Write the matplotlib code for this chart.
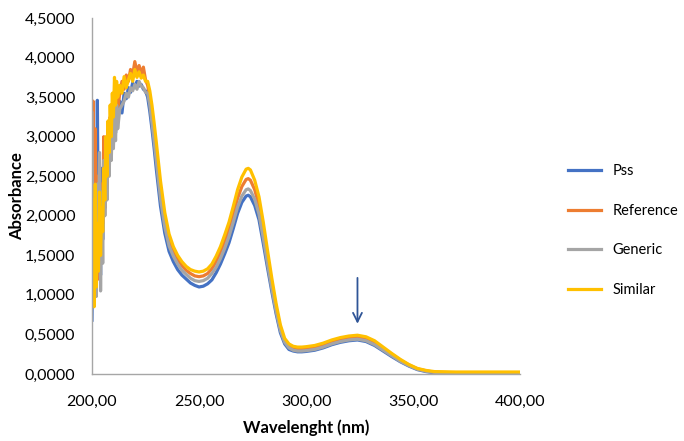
import numpy as np
import matplotlib.pyplot as plt
from matplotlib.ticker import FuncFormatter

plt.rcParams['font.family'] = ['Lato', 'DejaVu Sans']

# wavelength grid (nm)
wavelength = [200.0, 200.5, 201.0, 201.5, 202.0, 202.5, 203.0, 203.5, 204.0, 204.5,
              205.0, 205.5, 206.0, 206.5, 207.0, 207.5, 208.0, 208.5, 209.0, 209.5,
              210.0, 210.5, 211.0, 211.5, 212.0,
              213, 214, 215, 216, 217, 218, 219, 220, 221, 222, 223, 224, 225, 226,
              227, 228, 229, 230,
              232, 234, 236, 238, 240, 242, 244, 246, 248, 250, 252, 254, 256, 258,
              260, 262, 264, 266, 268, 270, 272, 273, 274, 276, 278, 280, 282, 284,
              286, 288, 290, 292, 294, 296, 298, 300,
              304, 308, 312, 316, 320, 324, 328, 332, 336, 340, 344, 348, 352, 356,
              360, 370, 380, 390, 400]

pss = [0.68, 1.90, 1.10, 2.70, 1.30, 3.46, 1.60, 2.40, 1.25, 2.60,
       1.70, 2.55, 2.10, 2.90, 2.40, 3.05, 2.60, 3.15, 2.75, 3.30,
       2.95, 3.45, 3.05, 3.50, 3.20,
       3.45, 3.30, 3.55, 3.48, 3.62, 3.56, 3.68, 3.62, 3.70, 3.64, 3.66, 3.60, 3.58, 3.50,
       3.32, 3.10, 2.86, 2.60,
       2.12, 1.78, 1.55, 1.42, 1.32, 1.25, 1.20, 1.15, 1.12, 1.10, 1.11, 1.14, 1.19, 1.28,
       1.39, 1.52, 1.66, 1.84, 2.03, 2.17, 2.25, 2.26, 2.24, 2.13, 1.95, 1.65, 1.34, 1.04,
       0.76, 0.52, 0.38, 0.31, 0.29, 0.28, 0.28, 0.285,
       0.30, 0.33, 0.37, 0.40, 0.42, 0.43, 0.41, 0.36, 0.29, 0.22, 0.155, 0.10, 0.055, 0.03,
       0.015, 0.01, 0.01, 0.01, 0.01]

reference = [1.50, 3.45, 2.00, 3.10, 1.60, 2.50, 1.20, 2.10, 1.70, 2.40,
             1.90, 3.00, 2.10, 2.70, 2.30, 3.10, 2.65, 3.25, 2.90, 3.40,
             3.05, 3.55, 3.20, 3.60, 3.35,
             3.55, 3.70, 3.60, 3.78, 3.70, 3.85, 3.78, 3.95, 3.82, 3.90, 3.80, 3.88, 3.72, 3.65,
             3.50, 3.30, 3.06, 2.82,
             2.34, 1.96, 1.70, 1.55, 1.45, 1.37, 1.31, 1.27, 1.24, 1.23, 1.24, 1.27, 1.33, 1.42,
             1.54, 1.68, 1.83, 2.02, 2.22, 2.37, 2.46, 2.47, 2.45, 2.33, 2.13, 1.82, 1.47, 1.14,
             0.84, 0.58, 0.42, 0.35, 0.32, 0.31, 0.31, 0.315,
             0.33, 0.36, 0.40, 0.44, 0.46, 0.47, 0.45, 0.40, 0.32, 0.25, 0.175, 0.115, 0.065, 0.04,
             0.022, 0.015, 0.015, 0.015, 0.015]

generic = [3.30, 1.20, 2.20, 1.50, 0.98, 2.40, 1.70, 2.80, 1.05, 2.30,
           1.40, 2.70, 2.00, 2.60, 2.20, 2.95, 2.50, 3.00, 2.70, 3.20,
           2.85, 3.30, 2.95, 3.40, 3.10,
           3.35, 3.40, 3.45, 3.55, 3.50, 3.62, 3.58, 3.66, 3.60, 3.70, 3.64, 3.62, 3.56, 3.55,
           3.40, 3.18, 2.95, 2.70,
           2.22, 1.86, 1.62, 1.49, 1.39, 1.31, 1.26, 1.21, 1.18, 1.17, 1.18, 1.21, 1.27, 1.35,
           1.46, 1.59, 1.74, 1.92, 2.11, 2.25, 2.33, 2.34, 2.32, 2.21, 2.02, 1.72, 1.39, 1.08,
           0.79, 0.55, 0.40, 0.33, 0.30, 0.29, 0.29, 0.295,
           0.31, 0.34, 0.38, 0.41, 0.43, 0.44, 0.42, 0.37, 0.30, 0.23, 0.16, 0.105, 0.06, 0.035,
           0.02, 0.012, 0.012, 0.012, 0.012]

similar = [0.95, 2.20, 0.85, 2.40, 1.10, 1.90, 1.30, 2.30, 1.50, 2.10,
           1.80, 2.60, 2.20, 3.00, 2.50, 3.20, 2.80, 3.40, 3.00, 3.55,
           3.25, 3.75, 3.40, 3.70, 3.50,
           3.65, 3.55, 3.76, 3.62, 3.72, 3.80, 3.70, 3.85, 3.75, 3.82, 3.74, 3.78, 3.70, 3.70,
           3.58, 3.40, 3.18, 2.94,
           2.44, 2.04, 1.77, 1.61, 1.50, 1.42, 1.36, 1.32, 1.30, 1.29, 1.30, 1.33, 1.39, 1.49,
           1.61, 1.76, 1.92, 2.12, 2.33, 2.49, 2.59, 2.60, 2.58, 2.45, 2.24, 1.92, 1.56, 1.21,
           0.89, 0.62, 0.45, 0.38, 0.35, 0.34, 0.34, 0.345,
           0.36, 0.39, 0.43, 0.46, 0.48, 0.49, 0.47, 0.42, 0.34, 0.26, 0.185, 0.12, 0.07, 0.045,
           0.03, 0.025, 0.025, 0.025, 0.025]

names = ['Pss', 'Reference', 'Generic', 'Similar']
colors = ['#4472C4', '#ED7D31', '#A5A5A5', '#FFC000']

fig = plt.figure(figsize=(6.84, 4.41), dpi=100)
ax = fig.add_axes([0.1345, 0.152, 0.626, 0.807])

for y, name, c in zip([pss, reference, generic, similar], names, colors):
    ax.plot(wavelength, y, color=c, lw=2.3, label=name, solid_joinstyle='round')

# arrow over the 3rd band
ax.annotate('', xy=(324, 0.60), xytext=(324, 1.25),
            arrowprops=dict(arrowstyle='->', color='#2F5597', lw=1.3,
                            mutation_scale=16))

ax.set_xlim(200, 400)
ax.set_ylim(0, 4.5)
ax.set_xticks([200, 250, 300, 350, 400])
ax.set_yticks(np.arange(0, 4.51, 0.5))
ax.xaxis.set_major_formatter(FuncFormatter(lambda v, p: f'{v:.2f}'.replace('.', ',')))
ax.yaxis.set_major_formatter(FuncFormatter(lambda v, p: f'{v:.4f}'.replace('.', ',')))
ax.tick_params(length=0, labelsize=11.5, colors='#000000')
ax.tick_params(axis='x', pad=15)
ax.tick_params(axis='y', pad=12)

for s in ['top', 'right']:
    ax.spines[s].set_visible(False)
for s in ['left', 'bottom']:
    ax.spines[s].set_color('#A6A6A6')
    ax.spines[s].set_linewidth(1.0)

ax.set_xlabel('Wavelenght (nm)', fontsize=12, fontweight='bold', labelpad=8)
ax.set_ylabel('Absorbance', fontsize=12, fontweight='bold', labelpad=0)

ax.legend(loc='center left', bbox_to_anchor=(1.08, 0.403), frameon=False,
          fontsize=10.5, handlelength=2.3, handletextpad=0.8, labelspacing=1.75)

fig.savefig('out.png', dpi=100)
